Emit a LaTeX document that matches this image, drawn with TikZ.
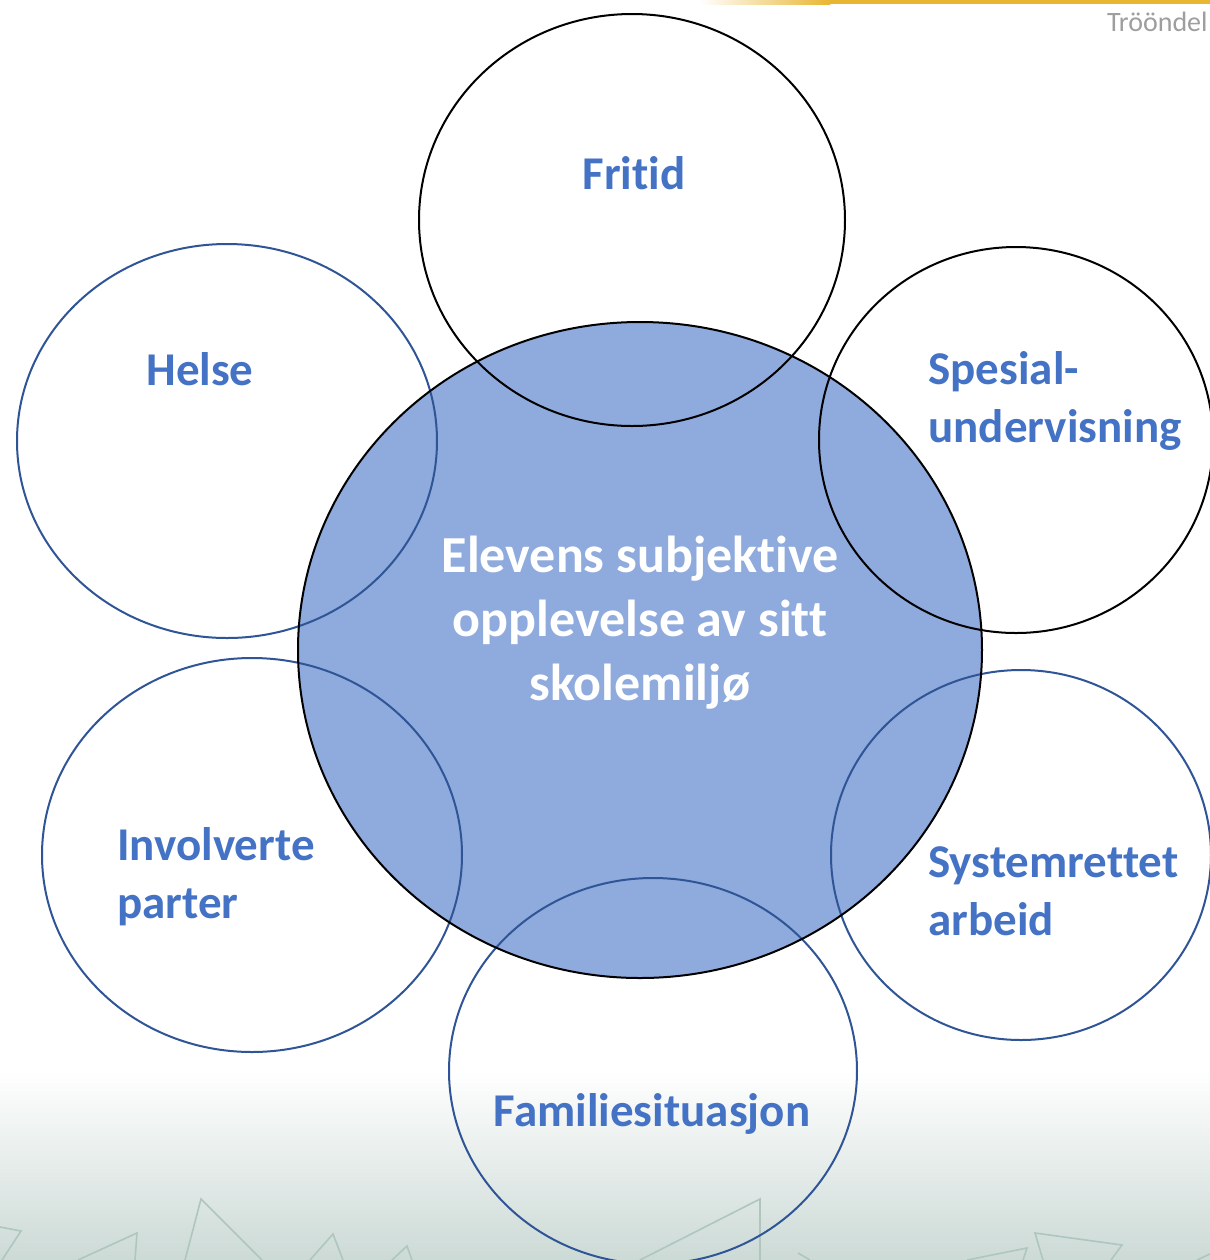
\documentclass[tikz,border=0pt]{standalone}
\usepackage{fontspec}
\setmainfont{Carlito}[Ligatures=NoCommon]
\definecolor{centerfill}{HTML}{8FAADC}
\definecolor{ringblue}{HTML}{2F5597}
\definecolor{labelblue}{HTML}{4472C4}
\definecolor{bggreen}{HTML}{CCDAD6}
\definecolor{triline}{HTML}{AFC6BF}
\definecolor{gold}{HTML}{E9B631}
\tikzset{
  ringblack/.style={draw=black, line width=1pt},
  ringb/.style={draw=ringblue, line width=1pt},
  lbl/.style={text=labelblue, font=\bfseries\fontsize{23.5}{29}\selectfont, inner sep=0pt},
  ctext/.style={text=white, font=\bfseries\fontsize{26}{32}\selectfont, inner sep=0pt, align=center},
  tri/.style={draw=triline, line width=0.8pt, line join=miter}
}
\begin{document}
\begin{tikzpicture}[x=0.5pt, y=-0.5pt]
\useasboundingbox (0,0) rectangle (1210,1260);
% background
\fill[white] (0,0) rectangle (1210,1260);
\shade[top color=white, bottom color=bggreen] (0,1070) rectangle (1210,1260);
% triangles
\draw[tri] (0,1227) -- (21,1231) -- (2,1260);
\draw[tri] (78,1260) -- (137,1233) -- (135,1260);
\draw[tri] (185,1260) -- (201,1199) -- (262,1260);
\draw[tri] (310,1260) -- (333,1234) -- (343,1260);
\draw[tri] (392,1260) -- (407,1246) -- (412,1260);
\draw[tri] (640,1260) -- (760,1199) -- (760,1260);
\draw[tri] (798,1253) -- (810,1260);
\draw[tri] (967,1260) -- (1027,1248) -- (1023,1260);
\draw[tri] (1043,1260) -- (1035,1233) -- (1122,1245) -- (1111,1260);
\draw[tri] (1197,1260) -- (1210,1254);
% gold line top right
\shade[left color=white, right color=gold] (700,0) rectangle (830,4);
\fill[gold] (830,0) rectangle (1210,4);
\node[anchor=east, inner sep=0pt, text=black!38, font=\fontsize{14}{17}\selectfont] (brand) at (1208,22) {Trööndel};
% center circle
\fill[centerfill] (640,650) ellipse [x radius=342, y radius=328];
% outer rings
\draw[ringblack] (632,220) ellipse [x radius=213, y radius=206];
\draw[ringb] (227,441) ellipse [x radius=210, y radius=197];
\draw[ringblack] (1016,440) ellipse [x radius=197, y radius=193];
\draw[ringb] (252,855) ellipse [x radius=210, y radius=197];
\draw[ringb] (1021,855) ellipse [x radius=190, y radius=185];
\draw[ringb] (653,1071) ellipse [x radius=204, y radius=193];
\draw[ringblack] (640,650) ellipse [x radius=342, y radius=328];
% labels
\node[ctext] (center) at (640,623) {Elevens subjektive\\opplevelse av sitt\\skolemiljø};
\node[lbl] (fritid) at (634,173) {Fritid};
\node[lbl] (helse) at (200,369) {Helse};
\node[lbl, anchor=west, align=left] (spes) at (928,401) {Spesial-\\undervisning};
\node[lbl, anchor=west, align=left] (invol) at (117,877) {Involverte\\parter};
\node[lbl, anchor=west, align=left] (syst) at (928,891) {Systemrettet\\arbeid};
\node[lbl] (fam) at (652,1114) {Familiesituasjon};
\end{tikzpicture}
\end{document}
